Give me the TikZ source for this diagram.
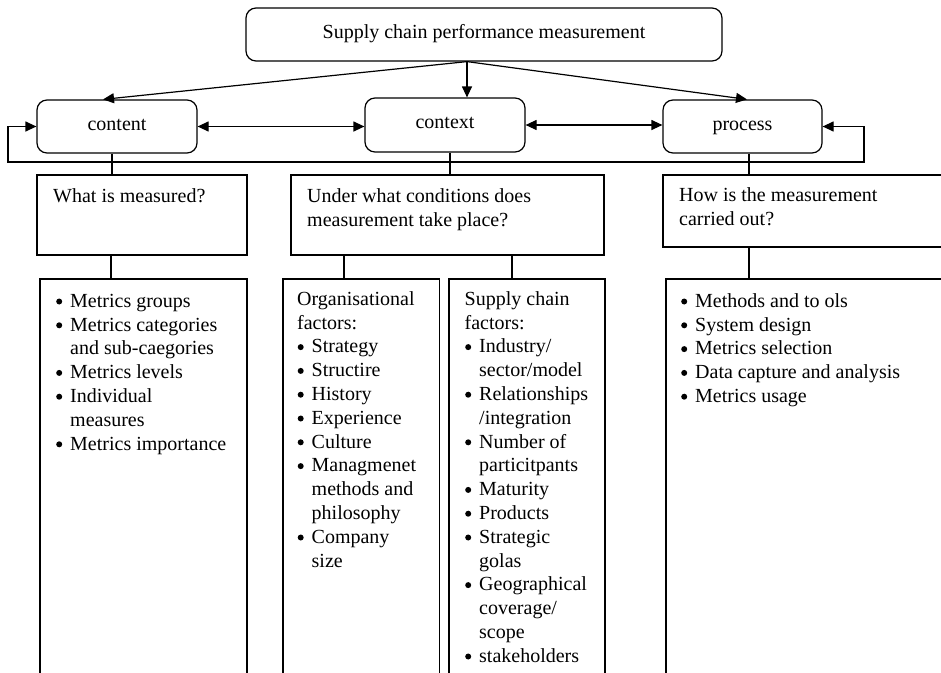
\documentclass[tikz,border=0pt]{standalone}
\usepackage{fontspec}
\setmainfont{Liberation Serif}
\usetikzlibrary{arrows.meta,calc}
\newcommand\bul{\makebox[14.5pt][l]{\hspace{0.5pt}\raisebox{2.7pt}{\tikz\fill (0,0) circle (3pt);}}}
\newcommand\ind{\hspace*{14.5pt}}
\newcommand\fst{\rule{0pt}{16pt}}
\begin{document}
\begin{tikzpicture}[x=1pt,y=-1pt,
  every node/.style={font=\fontsize{20}{23.8}\selectfont},
  rbox/.style={draw, rounded corners=10pt, line width=1.2pt, inner sep=0pt, text height=12pt, text depth=5pt},
  sbox/.style={draw, line width=1.2pt, inner sep=0pt},
  txt/.style={anchor=north west, inner sep=0pt, align=left},
  link/.style={line width=1.2pt},
  tip/.style={line width=1.2pt, -{Triangle[length=11pt,width=10pt]}},
  dbl/.style={line width=1.2pt, {Triangle[length=11pt,width=10pt]}-{Triangle[length=11pt,width=10pt]}}
  ]
\useasboundingbox (0,0) rectangle (941,672);
\clip (0,0) rectangle (941,672);

% top level
\node[rbox, minimum width=476pt, minimum height=53pt] (top) at (484,34.5) {Supply chain performance measurement};
\node[rbox, minimum width=160pt, minimum height=53pt] (content) at (117,126.5) {content};
\node[rbox, minimum width=160pt, minimum height=54pt] (context) at (445,125) {context};
\node[rbox, minimum width=159pt, minimum height=53pt] (process) at (742.5,126.5) {process};

% question boxes
\node[sbox, minimum width=210pt, minimum height=80pt] (q1) at (142,215) {};
\node[sbox, minimum width=313pt, minimum height=80pt] (q2) at (447.5,215) {};
\node[sbox, minimum width=337pt, minimum height=72pt] (q3) at (831.5,211) {};

% detail boxes (run past the bottom edge)
\node[sbox, minimum width=207pt, minimum height=441pt] (b1) at (143.5,499.5) {};
\node[sbox, minimum width=156.5pt, minimum height=441pt] (org) at (361.25,499.5) {};
\node[sbox, minimum width=156pt, minimum height=441pt] (sc) at (527,499.5) {};
\node[sbox, minimum width=334pt, minimum height=441pt] (b3) at (833,499.5) {};

% texts
\node[txt] (t1) at (53,186) {\fst What is measured?};
\node[txt] (t2) at (307,186) {\fst Under what conditions does\\measurement take place?};
\node[txt] (t3) at (679,185) {\fst How is the measurement\\carried out?};
\node[txt] (t4) at (55.5,291) {\fst\bul Metrics groups\\
\bul Metrics categories\\
\ind and sub-caegories\\
\bul Metrics levels\\
\bul Individual\\
\ind measures\\
\bul Metrics importance};
\node[txt] (t5) at (297,289) {\fst Organisational\\
factors:\\
\bul Strategy\\
\bul Structire\\
\bul History\\
\bul Experience\\
\bul Culture\\
\bul Managmenet\\
\ind methods and\\
\ind philosophy\\
\bul Company\\
\ind size};
\node[txt] (t6) at (464.5,289) {\fst Supply chain\\
factors:\\
\bul Industry/\\
\ind sector/model\\
\bul Relationships\\
\ind /integration\\
\bul Number of\\
\ind particitpants\\
\bul Maturity\\
\bul Products\\
\bul Strategic\\
\ind golas\\
\bul Geographical\\
\ind coverage/\\
\ind scope\\
\bul stakeholders};
\node[txt] (t7) at (680.5,291) {\fst\bul Methods and to ols\\
\bul System design\\
\bul Metrics selection\\
\bul Data capture and analysis\\
\bul Metrics usage};

% arrows from the top box
\coordinate (fan) at ($(top.south)+(-17,0)$);
\draw[tip] (fan) -- ($(content.north)+(-14,0)$);
\draw[tip] (fan) -- (fan |- context.north);
\draw[tip] (fan) -- ($(process.north)+(4.5,0)$);

% horizontal links
\draw[dbl] (content.east) -- (content.east -| context.west);
\draw[dbl] (context.east) -- (context.east -| process.west);

% feedback loop
\coordinate (lb) at (8,162);
\coordinate (rb) at (864,162);
\draw[dbl] (content.west) -| (lb) -- (rb) |- (process.east);

% vertical connectors
\coordinate (k1) at ($(content.south)+(-5,0)$);
\draw[link] (k1) -- (k1 |- q1.north);
\coordinate (k2) at ($(context.south)+(5,0)$);
\draw[link] (k2) -- (k2 |- q2.north);
\coordinate (k3) at ($(process.south)+(6.5,0)$);
\draw[link] (k3) -- (k3 |- q3.north);
\coordinate (k4) at ($(b1.north)+(-32.5,0)$);
\draw[link] (k4 |- q1.south) -- (k4);
\coordinate (k5) at ($(org.north)+(-17.25,0)$);
\draw[link] (k5 |- q2.south) -- (k5);
\coordinate (k6) at ($(sc.north)+(-15,0)$);
\draw[link] (k6 |- q2.south) -- (k6);
\draw[link] (k3 |- q3.south) -- (k3 |- b3.north);
\end{tikzpicture}
\end{document}
